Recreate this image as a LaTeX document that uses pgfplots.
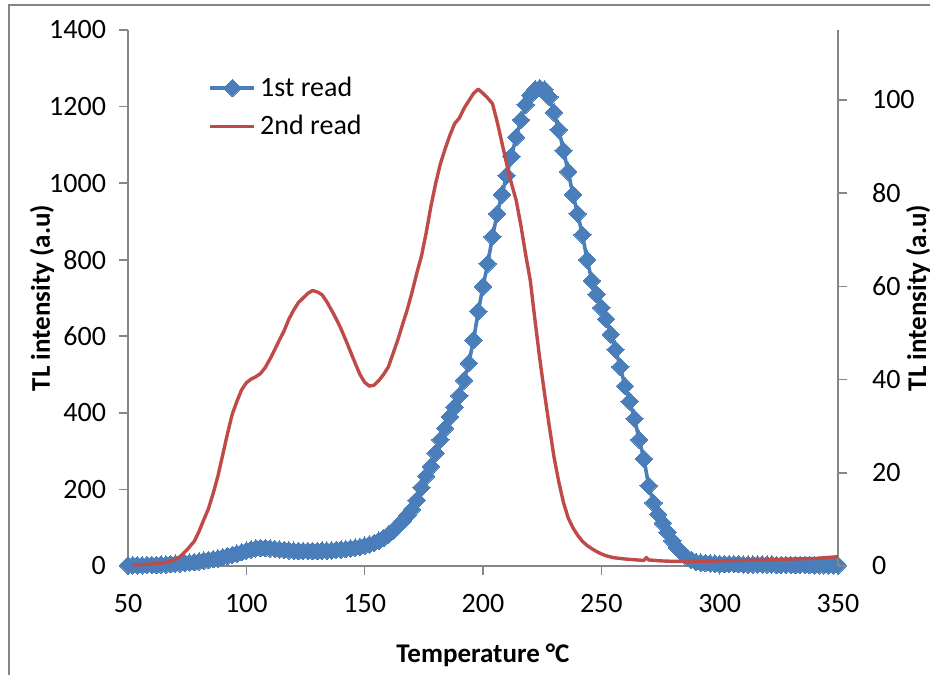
\documentclass[border=0pt]{standalone}
\usepackage{pgfplots}
\pgfplotsset{compat=1.18}
\usepackage{fontspec}
\setmainfont{Carlito}
\definecolor{xlblue}{HTML}{4A7EBB}
\definecolor{xlred}{HTML}{BE4B48}
\definecolor{xlgray}{HTML}{868686}
\pgfplotsset{
  common/.style={
    scale only axis, width=355pt, height=268pt, at={(0,0)}, anchor=south west,
    xmin=50, xmax=350, clip=false,
    axis line style={xlgray, line width=0.8pt},
    tick align=outside, major tick length=4.5pt,
    tick style={xlgray, line width=0.8pt},
    ticklabel style={font=\fontsize{14}{16}\selectfont, text=black},
    /pgf/number format/assume math mode=true,
    /pgf/number format/1000 sep={},
    label style={font=\fontsize{13.5}{16}\selectfont\bfseries},
  }
}
\begin{document}
\begin{tikzpicture}[x=1pt,y=1pt]
\useasboundingbox (-64,-54) rectangle (401,283);
\draw[xlgray, line width=1.3pt] (-59.5,-70) -- (-59.5,280.5) -- (420,280.5);
\begin{axis}[common,
  ymin=0, ymax=1400,
  axis x line*=bottom, axis y line*=left,
  xtick={50,100,...,350}, ytick={0,200,...,1400},
  yticklabel style={xshift=-3pt},
  xticklabel style={yshift=-6pt},
  xlabel={Temperature °C}, ylabel={TL intensity (a.u)},
  xlabel style={at={(axis description cs:0.5,-0.166)}, anchor=center},
  ylabel style={at={(axis description cs:-0.121,0.5)}, anchor=center},
]
\addplot[color=xlblue, line width=1.8pt, mark=square*, mark size=3.1pt,
  mark options={rotate=45, solid, fill=xlblue, draw=xlblue, line width=0pt}]
  coordinates {
(50,2) (52,2) (54,2) (56,2) (58,3) (60,3) (62,3) (64,4) (66,4) (68,5)
(70,6) (72,7) (74,8) (76,9) (78,10) (80,12) (82,14) (84,16) (86,18) (88,20)
(90,23) (92,26) (94,29) (96,32) (98,36) (100,40) (102,43) (104,46) (106,47) (108,47)
(110,46) (112,45) (114,43) (116,42) (118,41) (120,40) (122,39) (124,39) (126,39) (128,39)
(130,39) (132,40) (134,40) (136,41) (138,42) (140,43) (142,44) (144,46) (146,48) (148,50)
(150,53) (152,56) (154,60) (156,66) (158,73) (160,82) (162,92) (164,104) (166,117) (168,132)
(170,148) (172,172) (174,205) (176,235) (178,260) (180,295) (182,330) (184,360) (186,390) (188,415)
(190,445) (192,485) (194,530) (196,590) (198,665) (200,730) (202,790) (204,860) (206,920) (208,970)
(210,1020) (212,1070) (214,1120) (216,1165) (218,1205) (220,1230) (222,1245) (224,1248) (226,1245) (228,1225)
(230,1185) (232,1140) (234,1085) (236,1030) (238,970) (240,920) (242,865) (244,800) (246,745) (248,710)
(250,675) (252,645) (254,605) (256,565) (258,520) (260,470) (262,430) (264,385) (266,330) (268,280)
(270,210) (272,165) (274,135) (276,112) (278,88) (280,66) (282,48) (284,34) (286,24) (288,16)
(290,11) (292,9) (294,8) (296,7) (298,6) (300,5) (302,5) (304,5) (306,5) (308,5)
(310,4) (312,4) (314,4) (316,4) (318,4) (320,4) (322,4) (324,3) (326,3) (328,3)
(330,3) (332,3) (334,3) (336,3) (338,3) (340,2) (342,2) (344,2) (346,2) (348,2) (350,2)
};
\end{axis}
\begin{axis}[common,
  ymin=0, ymax=115,
  axis x line=none, axis y line*=right,
  ytick={0,20,...,100},
  yticklabel style={xshift=9pt},
  ylabel={TL intensity (a.u)},
  ylabel style={at={(axis description cs:1.113,0.5)}, anchor=center, rotate=0},
  legend style={draw=none, fill=none, at={(axis description cs:0.113,0.856)}, anchor=west,
    font=\fontsize{14}{16}\selectfont, row sep=4pt, inner sep=0pt},
  legend cell align=left,
  legend image code/.code={\draw[mark repeat=2, mark phase=2, #1] plot coordinates {(0pt,0pt) (11pt,0pt) (22pt,0pt)};},
]
\addlegendimage{color=xlblue, line width=1.8pt, mark=square*, mark size=3.1pt,
  mark options={rotate=45, solid, fill=xlblue, draw=xlblue, line width=0pt}}
\addlegendentry{1st read}
\addplot[color=xlred, line width=1.7pt, no markers, line join=round] coordinates {
(52,0.2) (55,0.3) (60,0.4) (65,0.7) (68,1.0) (70,1.4) (72,2.0) (75,3.5) (78,5.3)
(80,7.4) (82,9.9) (84,12.3) (86,15.6) (88,19.3) (90,23.8) (92,28.3) (94,32.5) (96,35.3) (98,37.8)
(100,39.3) (102,40.1) (104,40.6) (106,41.3) (108,42.6) (110,44.4) (112,46.4) (114,48.5) (116,50.5) (118,53.0)
(120,54.9) (122,56.5) (124,57.5) (126,58.5) (128,59.1) (130,58.8) (132,58.2) (134,56.7) (136,54.9) (138,53.0)
(140,50.9) (142,48.5) (144,46.0) (146,43.5) (148,41.1) (150,39.4) (152,38.6) (154,38.8) (156,39.8) (158,41.1)
(160,42.7) (162,45.6) (164,48.5) (166,51.8) (168,55.0) (170,58.7) (172,62.8) (174,66.5) (176,71.5) (178,77.2)
(180,82.1) (182,86.3) (184,89.5) (186,92.4) (188,94.9) (190,96.1) (192,98.2) (194,99.8) (196,101.4) (198,102.3)
(200,101.4) (202,100.4) (204,99.2) (206,95.3) (208,90.8) (210,86.3) (212,82.1) (214,78.5) (216,73.1) (218,66.9)
(220,61.2) (222,52.6) (224,44.4) (226,37.0) (228,30.0) (230,23.4) (232,18.1) (234,13.6) (236,10.3) (238,8.2)
(240,6.6) (242,5.3) (244,4.4) (246,3.7) (248,3.1) (250,2.6) (252,2.2) (255,1.8) (260,1.5) (265,1.3)
(268,1.2) (269,1.8) (270,1.3) (275,1.1) (280,1.0) (290,1.0) (300,1.1) (310,1.2) (320,1.3) (330,1.5)
(340,1.6) (350,2.0)
};
\addlegendentry{2nd read}
\end{axis}
\end{tikzpicture}
\end{document}
